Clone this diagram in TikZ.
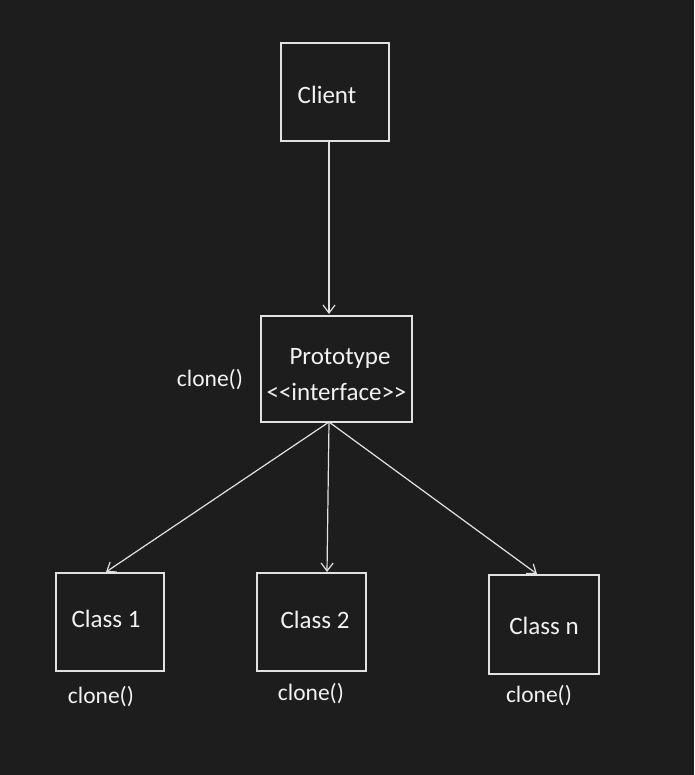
\documentclass[tikz,border=0pt]{standalone}
\usepackage{fontspec}
\setmainfont{Carlito}
\usetikzlibrary{arrows.meta}
\definecolor{bg}{HTML}{1E1D1D}
\definecolor{ln}{HTML}{E2E2E2}
\definecolor{tx}{HTML}{F2F2F2}
\begin{document}
\begin{tikzpicture}[x=1pt,y=-1pt,
  cls/.style={draw=ln,line width=1.5pt,inner sep=0pt,minimum width=108pt,minimum height=98pt},
  txt/.style={text=tx,font=\fontsize{25}{28}\selectfont,inner sep=0pt},
  lbl/.style={text=tx,font=\fontsize{23.5}{26}\selectfont,inner sep=0pt},
  arr/.style={draw=ln,line width=1.2pt,-{Straight Barb[length=8pt,width=12pt,line width=1.2pt]}}]
\fill[bg] (0,0) rectangle (694,775);
\useasboundingbox (0,0) rectangle (694,775);
% boxes
\node[cls] (client) at (335,92) {};
\node[draw=ln,line width=1.5pt,inner sep=0pt,minimum width=151pt,minimum height=106pt] (proto) at (336.5,369) {};
\node[cls] (c1) at (110,622) {};
\node[cls,minimum width=109pt] (c2) at (311.5,622) {};
\node[cls,minimum width=110pt,minimum height=99pt] (cn) at (544,624.5) {};
% texts
\node[txt] (tclient) at (327,95) {Client};
\node[txt] (tproto) at (340,358) {Prototype};
\node[txt] (tint) at (336.5,392) {{<}{<}interface{>}{>}};
\node[txt] (tc1) at (106,619) {Class 1};
\node[txt] (tc2) at (315,620) {Class 2};
\node[txt] (tcn) at (544,626) {Class n};
\node[lbl] (l0) at (210,380) {clone()};
\node[lbl] (l1) at (101,697) {clone()};
\node[lbl] (l2) at (311,694) {clone()};
\node[lbl] (l3) at (539,696) {clone()};
% arrow endpoints
\coordinate (cs) at (329,141);
\coordinate (pt) at (329,314);
\coordinate (pb) at (329,422);
\coordinate (e1) at (106,572);
\coordinate (e2) at (327,572);
\coordinate (en) at (537,574);
\draw[arr] (cs) -- (pt);
\draw[arr] (pb) -- (e1);
\draw[arr] (pb) -- (e2);
\draw[arr] (pb) -- (en);
\end{tikzpicture}
\end{document}
